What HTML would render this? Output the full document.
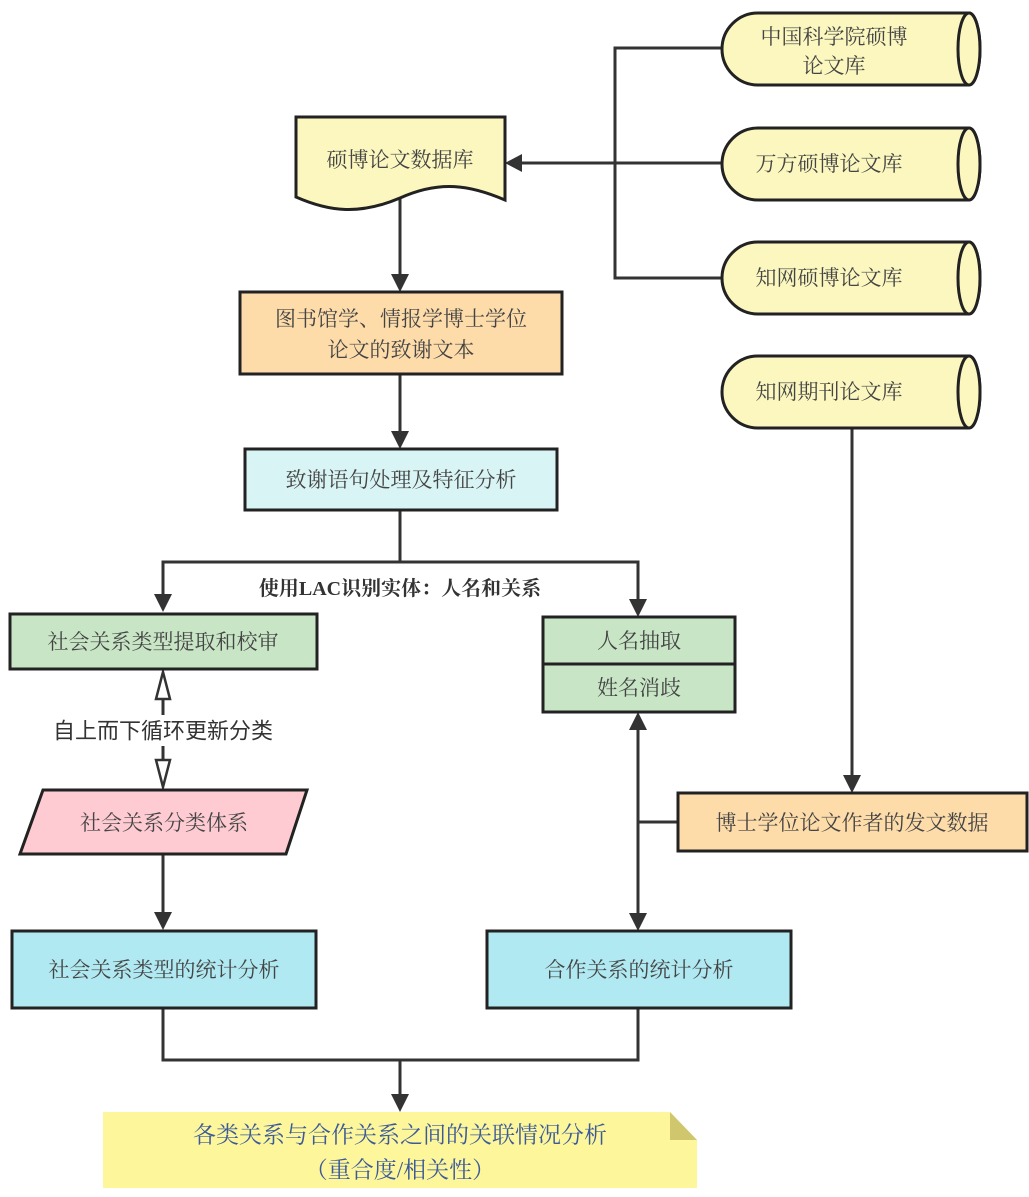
<!DOCTYPE html>
<html><head><meta charset="utf-8"><style>
html,body{margin:0;padding:0;background:#fff}
svg{display:block}
text{font-family:"Liberation Serif","Noto Serif CJK SC",serif;font-size:21px;fill:#444;text-anchor:middle;dominant-baseline:central}
</style></head><body>
<svg width="1029" height="1197" viewBox="0 0 1029 1197" xmlns="http://www.w3.org/2000/svg">
<g stroke="#333" stroke-width="3" fill="none">
<polyline points="722,48 615,48 615,278 722,278"/>
<line x1="722" y1="163" x2="520" y2="163"/>
<line x1="400" y1="197" x2="400" y2="275"/>
<line x1="400" y1="374" x2="400" y2="432"/>
<polyline points="400,510 400,562 163,562 163,595"/>
<polyline points="400,562 638,562 638,600"/>
<line x1="852" y1="428" x2="852" y2="776"/>
<line x1="638" y1="730" x2="638" y2="914"/>
<line x1="638" y1="822" x2="678" y2="822"/>
<line x1="163" y1="700" x2="163" y2="715"/>
<line x1="163" y1="746" x2="163" y2="760"/>
<line x1="163" y1="855" x2="163" y2="913"/>
<polyline points="163,1008 163,1060 638,1060 638,1008"/>
<line x1="400" y1="1060" x2="400" y2="1095"/>
</g>
<g fill="#333">
<polygon points="505,163 522,154 522,172"/>
<polygon points="400,292 391,274 409,274"/>
<polygon points="400,449 391,431 409,431"/>
<polygon points="163,612 154,594 172,594"/>
<polygon points="638,617 629,599 647,599"/>
<polygon points="852,793 843,775 861,775"/>
<polygon points="638,712 629,730 647,730"/>
<polygon points="638,931 629,913 647,913"/>
<polygon points="163,930 154,912 172,912"/>
<polygon points="400,1112 391,1094 409,1094"/>
</g>
<g stroke="#333" stroke-width="2.5" fill="#fff">
<polygon points="163,672 156,699 170,699"/>
<polygon points="163,787 156,760 170,760"/>
</g>
<g stroke="#222" stroke-width="3" fill="#fbf7bf">
<path d="M758,13 H969 A11,36 0 0 1 969,85 H758 A36,36 0 0 1 758,13 Z"/>
<ellipse cx="969" cy="49" rx="11" ry="36"/>
<path d="M758,128 H969 A11,36 0 0 1 969,200 H758 A36,36 0 0 1 758,128 Z"/>
<ellipse cx="969" cy="164" rx="11" ry="36"/>
<path d="M758,242 H969 A11,36 0 0 1 969,314 H758 A36,36 0 0 1 758,242 Z"/>
<ellipse cx="969" cy="278" rx="11" ry="36"/>
<path d="M758,356 H969 A11,36 0 0 1 969,428 H758 A36,36 0 0 1 758,356 Z"/>
<ellipse cx="969" cy="392" rx="11" ry="36"/>
<path d="M296,117 H505 V200 C470,185 440,180 400,198 C360,215 330,212 296,197 Z"/>
</g>
<g stroke="#222" stroke-width="3">
<rect x="240" y="292" width="322" height="82" fill="#fddcaa"/>
<rect x="245" y="449" width="312" height="61" fill="#d9f4f4"/>
<rect x="10" y="614" width="307" height="55" fill="#c8e6c6"/>
<rect x="543" y="617" width="192" height="95" fill="#c8e6c6"/>
<line x1="543" y1="664" x2="735" y2="664"/>
<polygon points="43,790 307,790 286,854 20,854" fill="#fdcbd1"/>
<rect x="12" y="931" width="304" height="77" fill="#b0e9f1"/>
<rect x="487" y="931" width="304" height="77" fill="#b0e9f1"/>
<rect x="678" y="793" width="349" height="58" fill="#fddcaa"/>
</g>
<polygon points="103,1112 670,1112 697,1140 697,1188 103,1188" fill="#fdf69a"/>
<polygon points="670,1112 697,1140 670,1140" fill="#cfc66e"/>
<text x="834" y="37">中国科学院硕博</text>
<text x="834" y="66">论文库</text>
<text x="829" y="164">万方硕博论文库</text>
<text x="829" y="278">知网硕博论文库</text>
<text x="829" y="392">知网期刊论文库</text>
<text x="400" y="160">硕博论文数据库</text>
<text x="401" y="319">图书馆学、情报学博士学位</text>
<text x="401" y="350">论文的致谢文本</text>
<text x="401" y="480">致谢语句处理及特征分析</text>
<text x="400" y="589" style="font-weight:bold;font-size:20px;fill:#333">使用LAC识别实体：人名和关系</text>
<text x="163" y="642">社会关系类型提取和校审</text>
<text x="639" y="641">人名抽取</text>
<text x="639" y="688">姓名消歧</text>
<text x="163" y="731" style="font-family:'Liberation Sans','Noto Sans CJK SC',sans-serif;fill:#333;font-size:22px">自上而下循环更新分类</text>
<text x="164" y="823">社会关系分类体系</text>
<text x="164" y="970">社会关系类型的统计分析</text>
<text x="639" y="970">合作关系的统计分析</text>
<text x="852" y="823">博士学位论文作者的发文数据</text>
<text x="400" y="1135" style="fill:#3a5a9a;font-size:23px">各类关系与合作关系之间的关联情况分析</text>
<text x="400" y="1170" style="fill:#3a5a9a;font-size:23px">（重合度/相关性）</text>
</svg>
</body></html>
